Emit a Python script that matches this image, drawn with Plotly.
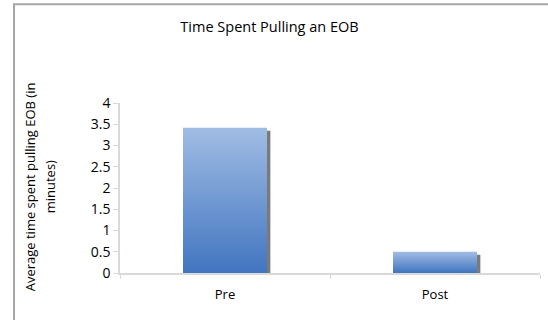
import plotly.graph_objects as go

# Data
categories = ["Pre", "Post"]
avg_minutes = [3.42, 0.5]
y_ticks = [0, 0.5, 1, 1.5, 2, 2.5, 3, 3.5, 4]
y_tick_labels = ["0", "0.5", "1", "1.5", "2", "2.5", "3", "3.5", "4"]
y_title_lines = ["Average time spent pulling EOB (in", "minutes)"]

FONT = "Open Sans"
BAR_W = 0.4
TOP_RGB = (160, 188, 228)
BOTTOM_RGB = (66, 118, 192)
STEPS = 60

# plot area in pixels (used to place items outside the axes)
PLOT_L, PLOT_W = 120, 420
PLOT_BOTTOM, PLOT_H = 272.7, 170


def px_x(px):
    return (px - PLOT_L) / PLOT_W


def px_y(py):
    return (PLOT_BOTTOM - py) / PLOT_H


fig = go.Figure()

# drop shadow, slightly right and below each bar
fig.add_trace(go.Bar(
    x=categories, y=[v - 0.07 for v in avg_minutes],
    width=BAR_W, offset=-BAR_W / 2 + 0.016,
    marker=dict(color="#7a7a7a", line=dict(width=0)),
    hoverinfo="skip", showlegend=False,
))

# vertical gradient: stack progressively shorter, darker bars on top
for i in range(STEPS):
    t = i / (STEPS - 1)
    r, g, b = (round(TOP_RGB[k] + (BOTTOM_RGB[k] - TOP_RGB[k]) * t) for k in range(3))
    frac = (STEPS - i) / STEPS
    fig.add_trace(go.Bar(
        x=categories, y=[v * frac for v in avg_minutes],
        width=BAR_W,
        marker=dict(color=f"rgb({r},{g},{b})", line=dict(width=0)),
        hoverinfo="skip", showlegend=False,
    ))

# rotated y-axis title, one annotation per line
annotations = [
    dict(text=line, xref="paper", yref="paper",
         x=px_x(cx), y=px_y(187), xanchor="center", yanchor="middle",
         textangle=-90, showarrow=False,
         font=dict(family=FONT, size=13, color="#000000"))
    for line, cx in zip(y_title_lines, [30, 50])
]

fig.update_layout(
    width=548, height=320,
    margin=dict(l=120, r=8, t=103, b=47),
    paper_bgcolor="white", plot_bgcolor="white",
    barmode="overlay",
    font=dict(family=FONT, size=12, color="#000000"),
    title=dict(
        text="Time Spent Pulling an EOB",
        font=dict(family=FONT, size=14.5, color="#000000"),
        x=269.5 / 548, xref="container", xanchor="center",
        y=1 - 27 / 320, yref="container", yanchor="middle",
    ),
    xaxis=dict(
        showgrid=False, zeroline=False,
        showline=True, linecolor="#d9d9d9", linewidth=1.5,
        ticks="outside", tickson="boundaries", ticklen=4, tickcolor="#d9d9d9",
        ticklabelstandoff=9,
        tickfont=dict(family=FONT, size=13, color="#000000"),
    ),
    yaxis=dict(
        range=[0, 4], tickvals=y_ticks, ticktext=y_tick_labels,
        showgrid=False, zeroline=False,
        showline=True, linecolor="#d9d9d9", linewidth=1.5,
        ticks="outside", ticklen=5, tickcolor="#d9d9d9",
        tickfont=dict(family=FONT, size=14, color="#000000"),
    ),
    annotations=annotations,
    shapes=[dict(
        type="rect", xref="paper", yref="paper",
        x0=px_x(14), x1=px_x(560),
        y0=px_y(330), y1=px_y(4),
        line=dict(color="#a6a6a6", width=2), fillcolor="rgba(0,0,0,0)",
        layer="below",
    )],
)

fig.write_html("out.html")
